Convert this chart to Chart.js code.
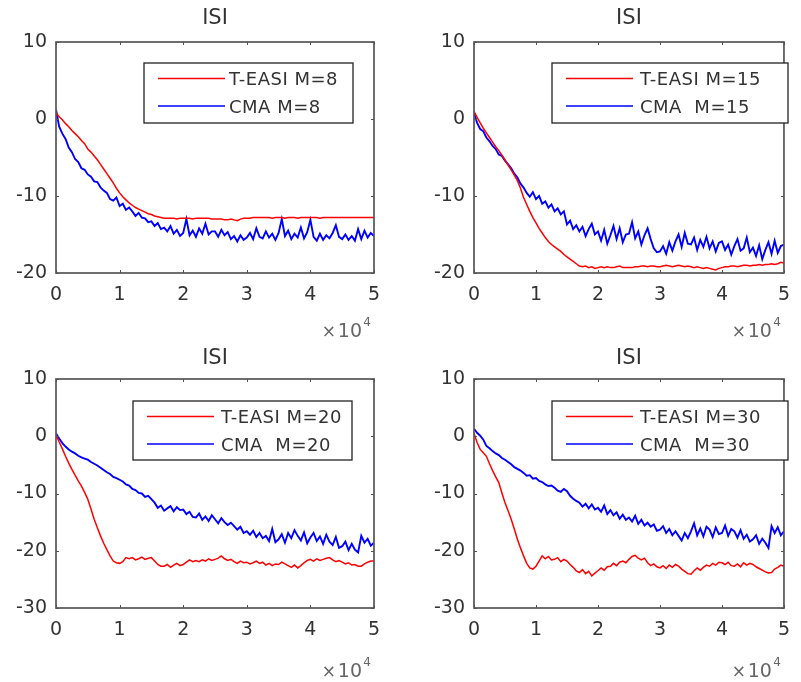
<!DOCTYPE html>
<html>
<head>
<meta charset="utf-8">
<script src="https://cdn.jsdelivr.net/npm/chart.js@4.4.0/dist/chart.umd.min.js"></script>
<style>
  body { margin: 0; background: #fff; }
  #wrap { position: relative; width: 801px; height: 682px; }
  canvas { position: absolute; }
</style>
</head>
<body>
<div id="wrap">
  <canvas id="p1"></canvas>
  <canvas id="p2"></canvas>
  <canvas id="p3"></canvas>
  <canvas id="p4"></canvas>
</div>
<script>
// iterations: one sample every 500, 0 .. 50000
const STEP = 500;
const ITER = Array.from({ length: 101 }, (_, i) => i * STEP);
const X_TICKS = [0, 1, 2, 3, 4, 5];

// M = 8
const easi8 = [
  0.8, 0.3, -0.1, -0.6, -1.0, -1.5, -1.9, -2.3, -2.8, -3.2,
  -3.9, -4.3, -4.8, -5.3, -5.9, -6.5, -7.1, -7.7, -8.3, -9.0,
  -9.6, -10.1, -10.5, -10.9, -11.2, -11.5, -11.7, -11.9, -12.1, -12.3,
  -12.4, -12.6, -12.7, -12.8, -12.9, -12.9, -12.9, -12.9, -13.0, -12.9,
  -12.9, -12.9, -12.9, -13.0, -12.9, -12.9, -12.9, -12.9, -12.9, -13.0,
  -13.0, -13.0, -13.0, -13.1, -13.1, -13.0, -13.1, -13.2, -13.0, -12.9,
  -12.9, -12.9, -12.8, -12.8, -12.8, -12.8, -12.8, -12.8, -12.9, -12.8,
  -12.8, -12.8, -12.9, -12.8, -12.8, -12.8, -12.9, -12.8, -12.8, -12.8,
  -12.8, -12.8, -12.8, -12.9, -12.8, -12.8, -12.8, -12.8, -12.8, -12.8,
  -12.8, -12.8, -12.8, -12.8, -12.8, -12.8, -12.8, -12.8, -12.8, -12.8,
  -12.8
];
const cma8 = [
  1.2, -1.0, -1.9, -2.6, -3.7, -4.3, -5.2, -5.6, -6.4, -6.6,
  -7.2, -7.5, -8.1, -8.2, -8.9, -9.3, -9.6, -10.4, -10.6, -10.2,
  -11.3, -11.0, -11.8, -11.5, -12.0, -12.6, -12.2, -12.8, -12.9, -13.4,
  -13.3, -13.9, -13.5, -14.3, -14.1, -14.6, -13.9, -14.9, -14.4, -15.2,
  -14.8, -13.0, -15.1, -14.5, -15.3, -14.2, -14.9, -13.6, -15.0, -14.6,
  -14.6, -15.3, -14.4, -15.1, -14.7, -15.6, -15.2, -15.9, -15.1, -15.7,
  -15.4, -14.8, -15.6, -14.2, -15.3, -15.5, -14.6, -15.4, -14.9, -15.7,
  -14.8, -13.0, -15.2, -14.5, -15.6, -14.9, -15.4, -14.1, -15.5, -14.7,
  -13.1, -15.3, -15.8, -14.9, -15.7, -15.1, -15.5, -14.8, -13.8, -15.3,
  -15.6, -15.0, -15.7, -15.2, -15.8, -14.3, -15.6, -14.5, -15.4, -14.8,
  -15.2
];

// M = 15
const easi15 = [
  1.0, 0.2, -0.5, -1.2, -1.8, -2.4, -3.0, -3.6, -4.1, -4.7,
  -5.3, -6.0, -6.6, -7.3, -8.0, -9.0, -10.2, -11.1, -12.0, -12.8,
  -13.5, -14.2, -14.8, -15.4, -15.9, -16.3, -16.6, -16.9, -17.2, -17.6,
  -17.9, -18.2, -18.5, -18.8, -19.1, -19.2, -19.1, -19.3, -19.2, -19.4,
  -19.3, -19.2, -19.3, -19.2, -19.3, -19.3, -19.2, -19.1, -19.3, -19.3,
  -19.3, -19.3, -19.2, -19.2, -19.1, -19.1, -19.2, -19.1, -19.1, -19.2,
  -19.2, -19.1, -19.0, -19.1, -19.2, -19.1, -19.0, -19.1, -19.2, -19.1,
  -19.2, -19.3, -19.2, -19.3, -19.4, -19.3, -19.4, -19.5, -19.6, -19.4,
  -19.3, -19.2, -19.2, -19.1, -19.1, -19.2, -19.1, -19.0, -19.0, -19.1,
  -19.0, -19.0, -18.9, -19.0, -18.9, -18.9, -18.8, -18.9, -18.8, -18.6,
  -18.7
];
const cma15 = [
  0.8, -0.5, -1.3, -1.6, -2.4, -2.9, -3.5, -3.9, -4.6, -4.8,
  -5.4, -5.9, -6.4, -7.1, -7.6, -8.4, -8.9, -9.6, -10.1, -9.5,
  -10.4, -10.0, -11.0, -10.7, -11.5, -11.1, -12.0, -11.6, -12.4, -12.0,
  -13.7, -13.2, -14.3, -13.8, -14.6, -14.0, -15.2, -14.3, -13.6, -15.0,
  -14.6, -15.8, -14.4, -16.2, -15.1, -13.9, -15.6, -14.2, -16.0, -15.0,
  -14.9, -13.4, -15.5, -14.6, -16.3, -15.1, -14.2, -15.6, -16.8, -17.3,
  -17.2, -16.5, -17.5, -16.0, -17.1, -15.9, -15.0, -16.6, -14.8, -16.2,
  -16.3, -15.4, -17.0, -15.7, -16.6, -15.3, -16.8, -15.9, -17.2, -16.1,
  -15.9, -17.0, -16.3, -17.6, -16.5, -15.6, -17.1, -16.8, -15.4, -17.3,
  -16.7, -17.8, -16.4, -18.2, -17.0, -16.0, -17.5, -15.8, -17.4, -16.5,
  -16.3
];

// M = 20
const easi20 = [
  0.3, -1.0, -2.2, -3.5, -4.7, -5.8, -6.8, -7.8, -8.7, -9.8,
  -11.0, -12.7, -14.5, -16.0, -17.4, -18.7, -19.8, -20.9, -21.8, -22.1,
  -22.2, -21.9, -21.2, -21.4, -21.2, -21.6, -21.4, -21.1, -21.5, -21.3,
  -21.2, -21.8, -22.4, -22.7, -22.7, -22.4, -22.9, -22.5, -22.2, -22.6,
  -22.4, -22.0, -21.6, -21.9, -21.7, -21.9, -21.6, -21.8, -21.4, -21.7,
  -21.5, -21.3, -20.9, -21.4, -21.7, -21.5, -21.9, -22.2, -21.8, -22.1,
  -22.0, -22.3, -22.1, -21.8, -22.2, -22.0, -22.5, -22.2, -22.6, -22.3,
  -22.4, -22.0, -22.3, -22.6, -22.9, -22.5, -23.0, -22.6, -22.1, -21.7,
  -21.5, -21.8, -21.4, -21.7, -21.5, -21.3, -21.2, -21.6, -21.9, -21.7,
  -22.0, -22.3, -22.1, -22.5, -22.4, -22.7, -22.7, -22.3, -22.0, -21.8,
  -21.8
];
const cma20 = [
  0.5, -0.4, -1.2, -1.8, -2.3, -2.7, -3.0, -3.4, -3.7, -3.9,
  -4.1, -4.5, -4.8, -5.1, -5.5, -5.9, -6.3, -6.6, -7.1, -7.3,
  -7.6, -7.9, -8.4, -8.6, -9.2, -9.4, -9.9, -10.0, -10.6, -10.4,
  -11.0, -11.6, -12.5, -12.1, -13.0, -12.6, -12.2, -13.1, -12.4, -12.9,
  -12.8, -13.6, -13.2, -14.1, -14.2, -13.5, -14.6, -14.0, -14.8, -13.8,
  -14.5, -15.2, -14.3, -15.0, -15.5, -15.1, -15.7, -16.3, -15.8, -16.9,
  -16.6, -17.2, -16.5, -17.6, -16.9, -17.8, -17.4, -18.3, -16.2, -18.5,
  -18.0, -17.1, -18.6, -16.9, -17.8, -16.4, -17.4, -18.2, -16.8, -18.7,
  -17.7, -16.9, -18.3, -17.5, -18.8, -17.2, -18.4, -19.0, -17.6, -19.5,
  -19.2, -18.4, -19.9, -18.8, -19.8, -20.3, -17.4, -18.6, -17.9, -19.1,
  -18.6
];

// M = 30
const easi30 = [
  0.5, -1.1, -2.3, -2.9, -3.5, -4.8, -6.0, -7.1, -8.1, -9.9,
  -11.6, -13.0, -14.5, -16.2, -18.0, -19.5, -20.9, -22.2, -23.0, -23.2,
  -22.7, -21.8, -20.9, -21.4, -21.0, -21.6, -21.5, -21.2, -21.9, -21.5,
  -21.8, -22.4, -22.9, -23.5, -23.8, -23.3, -24.0, -23.6, -24.4, -23.9,
  -23.5, -23.0, -23.4, -22.8, -22.7, -22.2, -22.6, -22.0, -21.8, -22.1,
  -21.5, -21.0, -20.8, -21.3, -21.6, -21.3, -22.1, -22.6, -22.3, -22.8,
  -23.0, -22.6, -23.1, -22.5, -22.9, -22.4, -22.7, -23.2, -23.6, -24.0,
  -24.1, -23.5, -23.0, -23.4, -22.9, -22.5, -22.7, -22.2, -22.5, -22.0,
  -22.1, -22.4, -22.0, -22.6, -22.7, -22.3, -22.8, -22.1, -22.5, -22.2,
  -22.4, -22.8, -23.1, -23.4, -23.7, -23.9, -23.8, -23.2, -22.9, -22.5,
  -22.7
];
const cma30 = [
  1.3, 0.6, 0.1, -0.6, -1.7, -2.1, -2.6, -3.0, -3.3, -3.8,
  -4.1, -4.5, -4.9, -5.4, -5.7, -6.0, -6.4, -6.9, -6.8, -7.4,
  -7.3, -7.8, -8.0, -8.4, -8.7, -8.6, -9.0, -9.5, -9.7, -9.2,
  -9.6, -10.4, -10.9, -11.3, -11.6, -12.3, -11.8, -12.6, -11.9, -12.8,
  -12.5, -13.2, -12.1, -13.6, -12.9, -13.8, -13.3, -14.4, -13.7, -14.6,
  -14.2, -14.9, -13.9, -15.3, -14.6, -15.6, -15.1, -15.8, -15.4, -16.5,
  -16.3, -15.7, -16.9, -16.2, -17.3, -16.6, -17.4, -18.2, -16.9, -17.8,
  -16.6, -15.2, -17.3, -16.1, -17.5, -15.8, -16.3, -17.6, -15.9, -17.1,
  -16.9, -15.6, -17.4, -16.2, -16.6, -17.7, -16.4, -17.9, -17.2, -18.4,
  -18.0, -17.3, -18.8, -17.9, -18.6, -19.5, -15.7, -16.9, -15.9, -17.3,
  -16.6
];

const FONT = "'DejaVu Sans', Verdana, sans-serif";
const TEXT = '#333';
const AXIS = '#555';

function pts(ys) {
  return ys.map((y, i) => ({ x: ITER[i], y: y }));
}

// draws the matlab style box, inward ticks, title, legend and the x10^4 factor
const matlabLook = {
  id: 'matlab',
  afterDatasetsDraw(chart, args, o) {
    const { ctx, chartArea: a, scales: { x, y } } = chart;
    ctx.save();
    ctx.strokeStyle = AXIS;
    ctx.lineWidth = 1;
    ctx.beginPath();
    x.ticks.forEach(t => {
      const px = Math.round(x.getPixelForValue(t.value)) + 0.5;
      ctx.moveTo(px, a.bottom); ctx.lineTo(px, a.bottom - 3);
      ctx.moveTo(px, a.top); ctx.lineTo(px, a.top + 3);
    });
    y.ticks.forEach(t => {
      const py = Math.round(y.getPixelForValue(t.value)) + 0.5;
      ctx.moveTo(a.left, py); ctx.lineTo(a.left + 3, py);
      ctx.moveTo(a.right, py); ctx.lineTo(a.right - 3, py);
    });
    ctx.stroke();
    ctx.lineWidth = 1.7;
    ctx.strokeRect(a.left, a.top, a.right - a.left, a.bottom - a.top);

    // title
    ctx.fillStyle = TEXT;
    ctx.font = '21px ' + FONT;
    ctx.textAlign = 'center';
    ctx.textBaseline = 'middle';
    ctx.fillText('ISI', (a.left + a.right) / 2, 19);

    // x10^4
    ctx.fillStyle = '#666';
    ctx.textAlign = 'right';
    ctx.textBaseline = 'alphabetic';
    ctx.font = '12px ' + FONT;
    ctx.fillText('4', a.right - 3, 326);
    ctx.font = '19px ' + FONT;
    ctx.fillText('10', a.right - 12, 337);
    ctx.font = '17px ' + FONT;
    ctx.fillText('\u00d7', a.right - 38, 337);

    // legend
    const L = o.box;
    ctx.fillStyle = '#fff';
    ctx.fillRect(L.l, L.t, L.w, L.h);
    ctx.strokeStyle = '#222';
    ctx.lineWidth = 1.3;
    ctx.strokeRect(L.l, L.t, L.w, L.h);
    ctx.font = '18px ' + FONT;
    ctx.letterSpacing = '0.5px';
    ctx.textAlign = 'left';
    ctx.textBaseline = 'middle';
    chart.data.datasets.forEach((ds, i) => {
      const ry = L.t + 15.5 + i * 27.5;
      ctx.strokeStyle = ds.borderColor;
      ctx.lineWidth = 1.5;
      ctx.beginPath();
      ctx.moveTo(L.l + 14, ry); ctx.lineTo(L.l + 81, ry);
      ctx.stroke();
      ctx.fillStyle = TEXT;
      ctx.fillText(ds.label, L.l + L.tx, ry + 2);
    });
    ctx.restore();
  }
};

const X_AXIS_H = 30;

function makePanel(id, pos, area, yMin, yMax, series, box) {
  const cv = document.getElementById(id);
  cv.width = pos.w; cv.height = pos.h;
  cv.style.left = pos.x + 'px'; cv.style.top = pos.y + 'px';
  new Chart(cv, {
    type: 'line',
    data: {
      datasets: [
        { label: series[0].label, data: pts(series[0].ys), borderColor: '#ff0000', borderWidth: 1.5, pointRadius: 0, fill: false },
        { label: series[1].label, data: pts(series[1].ys), borderColor: '#0000ff', borderWidth: 1.9, pointRadius: 0, fill: false }
      ]
    },
    options: {
      responsive: false,
      animation: false,
      layout: { padding: { left: 0, top: area.t, right: pos.w - area.r, bottom: pos.h - area.b - X_AXIS_H } },
      plugins: { legend: { display: false }, tooltip: { enabled: false }, matlab: { box: box } },
      scales: {
        x: {
          type: 'linear', min: 0, max: 50000,
          grid: { display: false, drawTicks: false }, border: { display: false },
          ticks: { stepSize: 10000, padding: 11, color: TEXT, font: { family: FONT, size: 19 },
                   callback: v => X_TICKS[v / 10000] },
          afterFit: s => { s.height = X_AXIS_H; }
        },
        y: {
          min: yMin, max: yMax,
          grid: { display: false, drawTicks: false }, border: { display: false },
          ticks: { stepSize: 10, padding: 9, color: TEXT, font: { family: FONT, size: 19 } },
          afterFit: s => { s.width = area.l; }
        }
      }
    },
    plugins: [matlabLook]
  });
}

makePanel('p1', { x: 0, y: 0, w: 400, h: 340 }, { l: 56, r: 374, t: 42, b: 273 }, -20, 10,
  [{ label: 'T-EASI M=8', ys: easi8 }, { label: 'CMA M=8', ys: cma8 }],
  { l: 144, t: 63, w: 209, h: 60, tx: 85 });
makePanel('p2', { x: 400, y: 0, w: 401, h: 340 }, { l: 74, r: 391, t: 42, b: 273 }, -20, 10,
  [{ label: 'T-EASI M=15', ys: easi15 }, { label: 'CMA  M=15', ys: cma15 }],
  { l: 152, t: 63, w: 236, h: 60, tx: 88 });
makePanel('p3', { x: 0, y: 340, w: 400, h: 342 }, { l: 56, r: 374, t: 39, b: 268 }, -30, 10,
  [{ label: 'T-EASI M=20', ys: easi20 }, { label: 'CMA  M=20', ys: cma20 }],
  { l: 133, t: 61, w: 219, h: 59, tx: 88 });
makePanel('p4', { x: 400, y: 340, w: 401, h: 342 }, { l: 74, r: 391, t: 39, b: 268 }, -30, 10,
  [{ label: 'T-EASI M=30', ys: easi30 }, { label: 'CMA  M=30', ys: cma30 }],
  { l: 152, t: 61, w: 236, h: 59, tx: 88 });
</script>
</body>
</html>
